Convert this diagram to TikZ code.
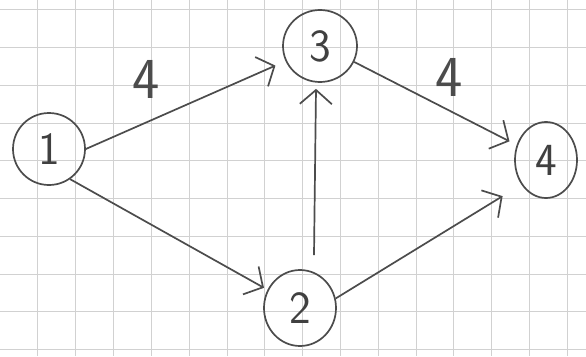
\documentclass[tikz,border=0pt]{standalone}
\usetikzlibrary{shapes.geometric,arrows.meta}
\begin{document}
\begin{tikzpicture}[x=1pt,y=-1pt,
  pencil/.style={draw=black!70, line width=1.7pt},
  vertex/.style={pencil, ellipse, inner sep=0pt, font=\sffamily\fontsize{46}{46}\selectfont, text=black!75},
  arr/.style={pencil, -{Straight Barb[length=14pt,width=32pt,line width=1.7pt]}},
  wlabel/.style={font=\sffamily\fontsize{58}{58}\selectfont, text=black!70},
  gridline/.style={draw=black!18, line width=0.9pt}]
\fill[white] (0,0) rectangle (586,356);
\useasboundingbox (0,0) rectangle (586,356);
\foreach \x in {37,75,113,151,189,227,264,302,340,378,416,453,491,529,567}
  \draw[gridline] (\x,0) -- (\x,356);
\foreach \y in {9,47,85,123,160,198,236,274,311,349}
  \draw[gridline] (0,\y) -- (586,\y);
\node[vertex, minimum width=72pt, minimum height=72pt] (n1) at (49,149) {1};
\node[vertex, minimum width=74pt, minimum height=72pt] (n3) at (320,46) {3};
\node[vertex, minimum width=62pt, minimum height=76pt] (n4) at (546,160) {4};
\node[vertex, minimum width=72pt, minimum height=76pt] (n2) at (300,308) {2};
\draw[arr, shorten >=11pt] (n1.east) -- (n3);
\draw[arr, shorten >=4pt] (n1.-55) -- (n2);
\draw[arr] ([xshift=14pt,yshift=14pt]n2.north) -- ([xshift=-4pt,yshift=-6pt]n3.south);
\draw[arr, shorten >=8pt] (n3.-25) -- (n4);
\draw[arr, shorten >=22pt] (n2.15) -- (n4.225);
\node[wlabel] (w13) at (146,79) {4};
\node[wlabel] (w34) at (449,77) {4};
\end{tikzpicture}
\end{document}
